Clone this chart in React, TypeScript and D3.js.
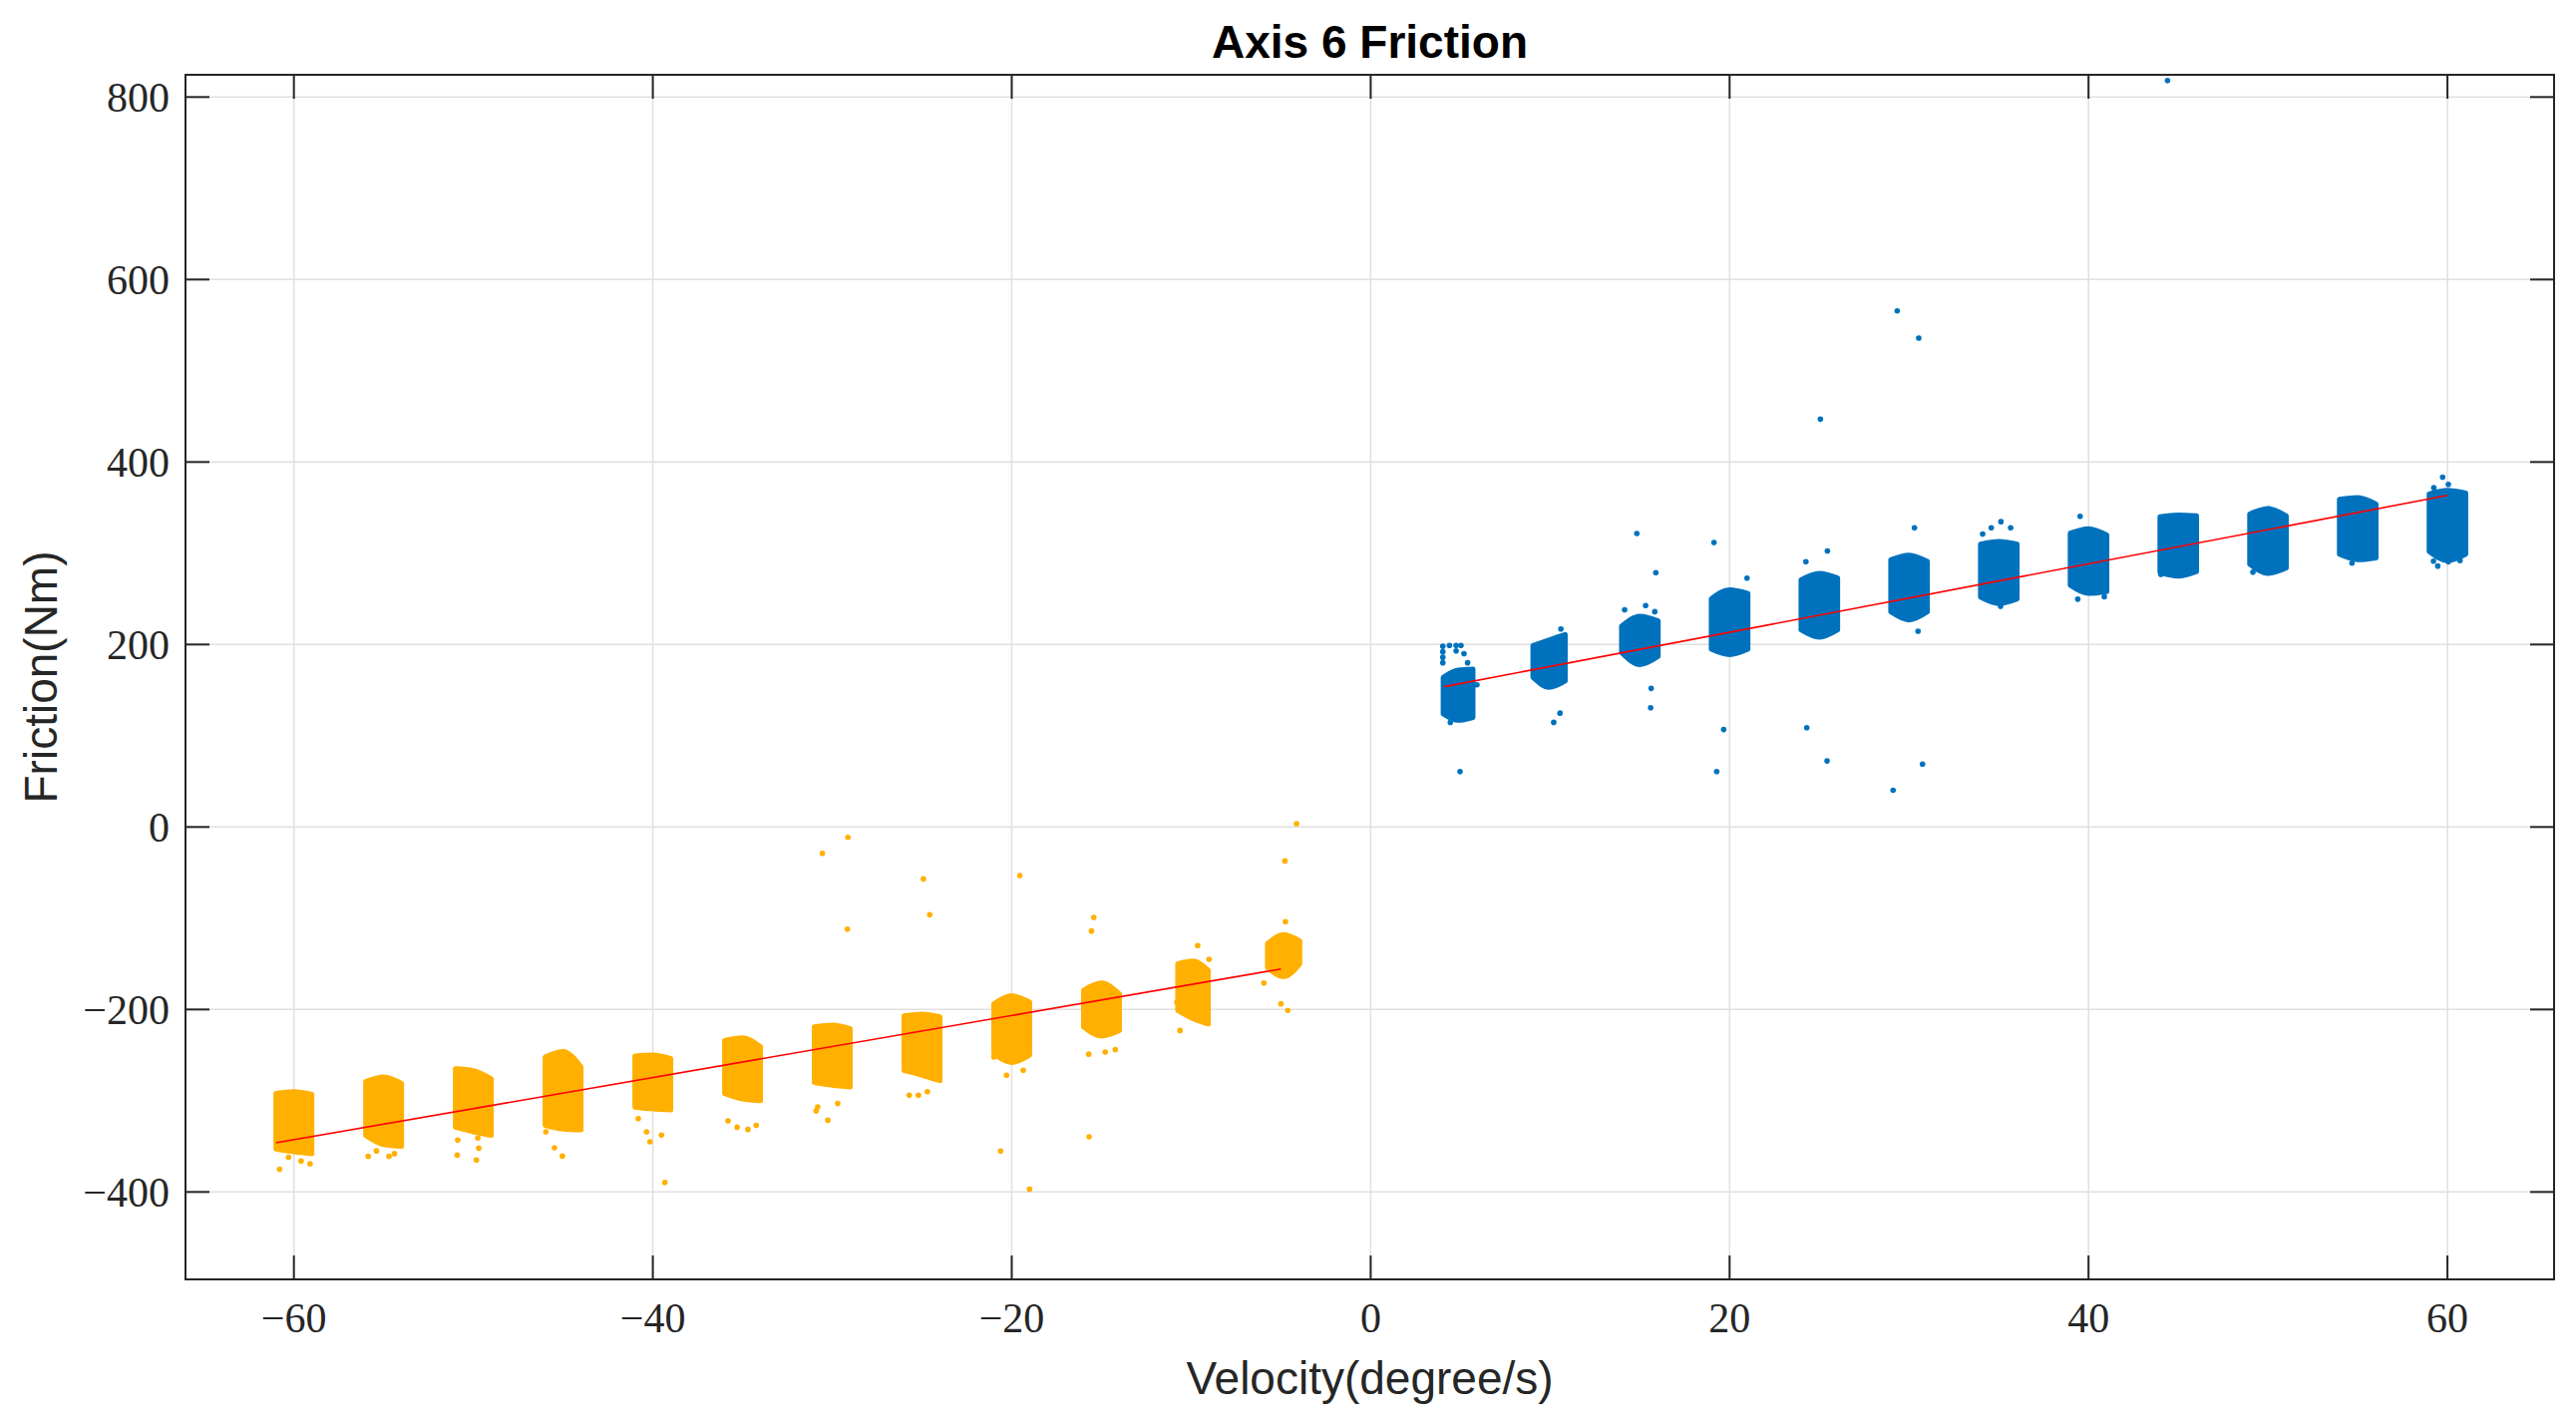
import { useMemo } from "react";
import * as d3 from "d3";

// tick labels
const xTicks = [-60, -40, -20, 0, 20, 40, 60];
const yTicks = [-400, -200, 0, 200, 400, 600, 800];

// dense bands: [velocity, half width, topL, topC, topR, botR, botC, botL]
const negClusters: number[][] = [
  [-60, 1.0, -292, -290, -293, -358, -356, -353],
  [-55, 1.0, -279, -274, -281, -350, -348, -338],
  [-50, 1.0, -265, -267, -276, -338, -334, -329],
  [-45, 1.0, -252, -246, -263, -332, -331, -327],
  [-40, 1.0, -251, -250, -254, -310, -309, -307],
  [-35, 1.0, -234, -231, -241, -300, -298, -292],
  [-30, 1.0, -219, -217, -221, -285, -283, -280],
  [-25, 1.0, -207, -205, -208, -278, -272, -267],
  [-20, 1.0, -194, -185, -192, -250, -258, -248],
  [-15, 1.0, -179, -171, -183, -223, -229, -219],
  [-9.9, 0.85, -150, -147, -157, -216, -210, -201],
  [-4.85, 0.9, -128, -118, -125, -150, -164, -154],
];

const posClusters: number[][] = [
  [4.87, 0.83, 164, 172, 173, 120, 117, 124],
  [9.94, 0.9, 199, 205, 211, 160, 153, 164],
  [15, 1.02, 220, 231, 226, 187, 178, 191],
  [20, 1.02, 250, 260, 256, 195, 189, 195],
  [25, 1.02, 271, 278, 273, 216, 208, 216],
  [30, 1.02, 293, 298, 291, 236, 227, 236],
  [35, 1.02, 310, 313, 310, 250, 245, 252],
  [40, 1.02, 322, 327, 320, 258, 256, 265],
  [45, 1.02, 340, 342, 341, 280, 275, 279],
  [50, 1.02, 343, 349, 341, 284, 278, 288],
  [55, 1.02, 359, 361, 354, 295, 293, 299],
  [60, 1.02, 365, 369, 366, 299, 292, 302],
];

// scattered samples outside the bands [velocity, friction]
const negOutliers: number[][] = [
  [-60.8, -375], [-59.6, -366], [-59.1, -369], [-60.3, -362],
  [-55.86, -361], [-54.7, -361], [-55.4, -355], [-54.4, -358],
  [-50.87, -343], [-50.9, -359.6], [-49.83, -365], [-49.7, -352], [-49.75, -341],
  [-45.96, -334], [-45.48, -351.6], [-45.04, -360.7],
  [-40.81, -319.6], [-40.16, -345], [-39.52, -337.7], [-39.33, -389.5], [-40.35, -334],
  [-35.81, -322], [-34.7, -331.5], [-34.24, -327], [-35.3, -329],
  [-30.81, -306.8], [-30.25, -321.4], [-30.9, -311], [-29.7, -303],
  [-30.55, -28.8], [-29.13, -11.3], [-29.16, -112],
  [-25.71, -294], [-25.2, -294], [-24.7, -290], [-24.92, -56.9], [-24.57, -96.2],
  [-20.29, -272], [-19.36, -266.7], [-20.99, -252],
  [-19.55, -53.2], [-20.62, -355.2], [-19.01, -397],
  [-15.71, -249], [-14.79, -246.6], [-14.23, -244],
  [-15.69, -339.6], [-15.43, -99.1], [-15.56, -114],
  [-9.64, -130], [-9.01, -145], [-10.8, -192], [-10.62, -223],
  [-4.75, -103.8], [-4.78, -37.2], [-4.13, 3.6], [-5.0, -193.8], [-4.62, -201],
  [-5.95, -171], [-4.32, -124],
];

const posOutliers: number[][] = [
  [4.02, 198], [4.02, 192], [4.02, 186], [4.02, 180], [4.39, 199], [4.76, 199],
  [5.03, 199], [5.2, 190], [5.4, 180], [4.76, 193],
  [5.92, 155.8], [4.44, 114.7], [4.98, 60.7],
  [10.55, 124.8], [10.2, 114.7], [10.6, 217],
  [14.15, 238], [15.32, 242.7], [15.83, 236], [14.83, 321.7], [15.89, 278.7],
  [15.63, 151.9], [15.6, 130.7],
  [20.97, 272.8], [19.13, 311.9], [19.67, 106.8], [19.28, 60.7],
  [24.25, 290.8], [25.45, 302.5], [25.06, 447], [24.3, 108.8], [25.43, 72.4],
  [30.3, 328], [30.5, 214.5], [29.34, 565.6], [30.54, 535.8], [29.11, 40.3], [30.75, 68.9],
  [35.12, 334.6], [34.58, 328], [34.1, 321], [35.66, 328], [35.1, 241.9],
  [39.53, 340.5], [40.88, 252.4], [39.4, 249.7],
  [44.03, 276.8], [44.4, 818],
  [49.16, 279.4], [50.05, 348.8],
  [54.68, 289.2],
  [59.73, 383.5], [59.24, 371.8], [60.05, 375.5], [59.22, 291.4], [59.46, 286],
  [60.05, 290.7], [60.7, 292],
];

// fitted lines
const negFit: number[][] = [[-61, -346], [-5, -155.6]];
const posFit: number[][] = [[4.1, 153.8], [60, 363.4]];

const BLUE = "#0072BD";
const ORANGE = "#FFB000";

export default function App() {
  const width = 2583;
  const height = 1421;
  const plot = { left: 186, right: 2561, top: 75, bottom: 1283 };

  const xScale = useMemo(
    () => d3.scaleLinear().domain([-66.04, 65.94]).range([plot.left, plot.right]),
    []
  );
  const yScale = useMemo(
    () => d3.scaleLinear().domain([-495.8, 824.4]).range([plot.bottom, plot.top]),
    []
  );

  // each band as a smooth area between its bottom and top profile
  const band = (c: number[]) => {
    const [v, hw, tl, tc, tr, br, bc, bl] = c;
    const pts = [
      { x: v - hw, top: tl, bot: bl },
      { x: v, top: tc, bot: bc },
      { x: v + hw, top: tr, bot: br },
    ];
    return (
      d3
        .area<{ x: number; top: number; bot: number }>()
        .x((d) => xScale(d.x))
        .y0((d) => yScale(d.bot))
        .y1((d) => yScale(d.top))
        .curve(d3.curveMonotoneX)(pts) ?? ""
    );
  };

  const fitLine = d3
    .line<number[]>()
    .x((d) => xScale(d[0]))
    .y((d) => yScale(d[1]));

  const fmt = (v: number) => (v < 0 ? "\u2212" + Math.abs(v) : String(v));
  const axisColor = "#262626";
  const gridColor = "#e0e0e0";
  const tickLen = 24;
  const tickFont = { fontFamily: "'Liberation Serif', serif", fontSize: "42px" };
  const labelFont = { fontFamily: "'Liberation Sans', Arial, sans-serif", fontSize: "46px" };

  return (
    <svg
      width={width}
      height={height}
      viewBox={`0 0 ${width} ${height}`}
      style={{ position: "absolute", left: 0, top: 0, background: "#fff" }}
    >
      <rect x={0} y={0} width={width} height={height} fill="#fff" />

      {/* grid */}
      {xTicks.map((t) => (
        <line key={`gx${t}`} x1={xScale(t)} x2={xScale(t)} y1={plot.top} y2={plot.bottom}
          stroke={gridColor} strokeWidth={1.5} />
      ))}
      {yTicks.map((t) => (
        <line key={`gy${t}`} x1={plot.left} x2={plot.right} y1={yScale(t)} y2={yScale(t)}
          stroke={gridColor} strokeWidth={1.5} />
      ))}

      {/* scatter: negative velocities */}
      {negClusters.map((c, i) => (
        <path key={`nc${i}`} d={band(c)} fill={ORANGE} stroke={ORANGE} strokeWidth={5}
          strokeLinejoin="round" />
      ))}
      {negOutliers.map((p, i) => (
        <circle key={`no${i}`} cx={xScale(p[0])} cy={yScale(p[1])} r={2.8} fill={ORANGE} />
      ))}

      {/* scatter: positive velocities */}
      {posClusters.map((c, i) => (
        <path key={`pc${i}`} d={band(c)} fill={BLUE} stroke={BLUE} strokeWidth={5}
          strokeLinejoin="round" />
      ))}
      {posOutliers.map((p, i) => (
        <circle key={`po${i}`} cx={xScale(p[0])} cy={yScale(p[1])} r={2.8} fill={BLUE} />
      ))}

      {/* fits */}
      <path d={fitLine(negFit) ?? ""} stroke="#FF0000" strokeWidth={1.6} fill="none" />
      <path d={fitLine(posFit) ?? ""} stroke="#FF0000" strokeWidth={1.6} fill="none" />

      {/* box + ticks */}
      <rect x={plot.left} y={plot.top} width={plot.right - plot.left} height={plot.bottom - plot.top}
        fill="none" stroke={axisColor} strokeWidth={2} />
      {xTicks.map((t) => (
        <g key={`tx${t}`}>
          <line x1={xScale(t)} x2={xScale(t)} y1={plot.bottom} y2={plot.bottom - tickLen} stroke={axisColor} strokeWidth={2} />
          <line x1={xScale(t)} x2={xScale(t)} y1={plot.top} y2={plot.top + tickLen} stroke={axisColor} strokeWidth={2} />
          <text x={xScale(t)} y={plot.bottom + 53} textAnchor="middle" style={tickFont} fill={axisColor}>
            {fmt(t)}
          </text>
        </g>
      ))}
      {yTicks.map((t) => (
        <g key={`ty${t}`}>
          <line x1={plot.left} x2={plot.left + tickLen} y1={yScale(t)} y2={yScale(t)} stroke={axisColor} strokeWidth={2} />
          <line x1={plot.right} x2={plot.right - tickLen} y1={yScale(t)} y2={yScale(t)} stroke={axisColor} strokeWidth={2} />
          <text x={plot.left - 16} y={yScale(t)} dy="0.35em" textAnchor="end" style={tickFont} fill={axisColor}>
            {fmt(t)}
          </text>
        </g>
      ))}

      {/* labels */}
      <text x={(plot.left + plot.right) / 2} y={58} textAnchor="middle"
        style={{ ...labelFont, fontWeight: "bold" }} fill="#000">
        Axis 6 Friction
      </text>
      <text x={(plot.left + plot.right) / 2} y={1398} textAnchor="middle" style={labelFont} fill={axisColor}>
        Velocity(degree/s)
      </text>
      <text transform={`translate(57, ${(plot.top + plot.bottom) / 2}) rotate(-90)`} textAnchor="middle"
        style={labelFont} fill={axisColor}>
        Friction(Nm)
      </text>
    </svg>
  );
}
